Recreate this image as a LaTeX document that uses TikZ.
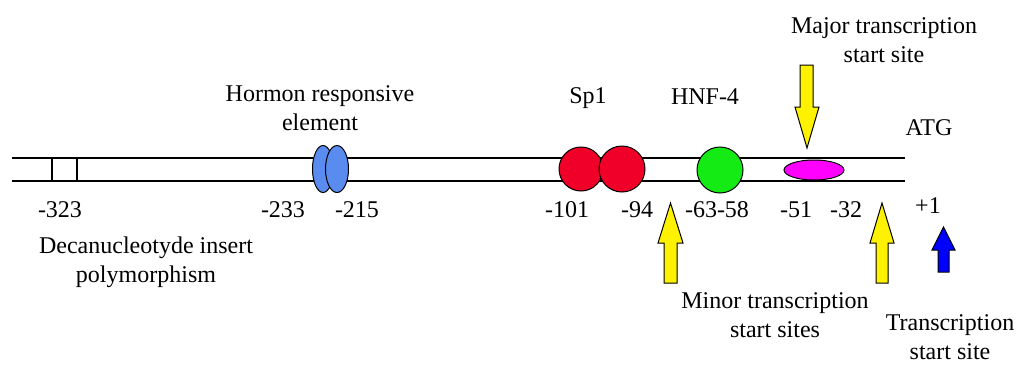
\documentclass[tikz,border=0pt]{standalone}
\usepackage{fontspec}
\setmainfont{Liberation Serif}
\usetikzlibrary{shapes.geometric}
\begin{document}
\begin{tikzpicture}[x=1pt,y=-1pt,
  lbl/.style={font=\fontsize{24}{29}\selectfont, inner sep=0pt, anchor=base, align=center},
  dna/.style={line width=1.6pt, black},
  blob/.style={draw=black, line width=1pt},
  yarrow/.style={fill=yellow, draw=black, line width=1pt, line join=miter},
  barrow/.style={fill=blue, draw=black, line width=1pt, line join=miter}]
\useasboundingbox (0,0) rectangle (1018,365);
% DNA strands
\coordinate (L1) at (12,158); \coordinate (R1) at (905,158);
\coordinate (L2) at (12,181); \coordinate (R2) at (905,181);
\draw[dna] (L1) -- (R1);
\draw[dna] (L2) -- (R2);
% insert ticks
\coordinate (t1a) at (52,158); \coordinate (t1b) at (52,181);
\coordinate (t2a) at (77,158); \coordinate (t2b) at (77,181);
\draw[dna] (t1a) -- (t1b);
\draw[dna] (t2a) -- (t2b);
% hormone responsive element
\node[blob, ellipse, fill={rgb,255:red,90;green,140;blue,240}, minimum width=21pt, minimum height=47pt, inner sep=0pt] (hre1) at (323,169) {};
\node[blob, ellipse, fill={rgb,255:red,90;green,140;blue,240}, minimum width=23pt, minimum height=47pt, inner sep=0pt] (hre2) at (337,169) {};
% Sp1
\node[blob, circle, fill={rgb,255:red,240;green,0;blue,40}, minimum size=44pt, inner sep=0pt] (sp1a) at (581,169) {};
\node[blob, circle, fill={rgb,255:red,240;green,0;blue,40}, minimum size=46pt, inner sep=0pt] (sp1b) at (622,169) {};
% HNF-4
\node[blob, circle, fill={rgb,255:red,20;green,235;blue,20}, minimum size=46pt, inner sep=0pt] (hnf) at (720,170) {};
% major site
\node[blob, ellipse, fill={rgb,255:red,255;green,0;blue,255}, minimum width=60pt, minimum height=20pt, inner sep=0pt] (maj) at (814,170) {};
% arrows
\draw[yarrow] (800,65) -- (813,65) -- (813,107) -- (819,107) -- (807,148) -- (795,107) -- (800,107) -- cycle;
\draw[yarrow] (664,283) -- (677,283) -- (677,243) -- (683,243) -- (670.5,203) -- (658,243) -- (664,243) -- cycle;
\draw[yarrow] (876,283) -- (888,283) -- (888,243) -- (894,243) -- (882,203) -- (870,243) -- (876,243) -- cycle;
\draw[barrow] (938,272) -- (949,272) -- (949,250) -- (955,250) -- (943.5,227) -- (932,250) -- (938,250) -- cycle;
% labels
\node[lbl] (thre) at (320,130) {Hormon responsive\\element};
\node[lbl] (tsp1) at (588,103) {Sp1};
\node[lbl] (thnf) at (705,104) {HNF-4};
\node[lbl] (tmaj) at (884,62) {Major transcription\\start site};
\node[lbl] (tatg) at (929,135) {ATG};
\node[lbl] (n323) at (60,217) {-323};
\node[lbl] (n233) at (283,217) {-233};
\node[lbl] (n215) at (357,217) {-215};
\node[lbl] (n101) at (567,217) {-101};
\node[lbl] (n94) at (637,217) {-94};
\node[lbl] (n63) at (717,217) {-63-58};
\node[lbl] (n51) at (796,217) {-51};
\node[lbl] (n32) at (846,217) {-32};
\node[lbl] (np1) at (928,213) {+1};
\node[lbl] (tdec) at (146,282) {Decanucleotyde insert\\polymorphism};
\node[lbl] (tmin) at (775,337) {Minor transcription\\start sites};
\node[lbl] (ttss) at (950,359) {Transcription\\start site};
\end{tikzpicture}
\end{document}
